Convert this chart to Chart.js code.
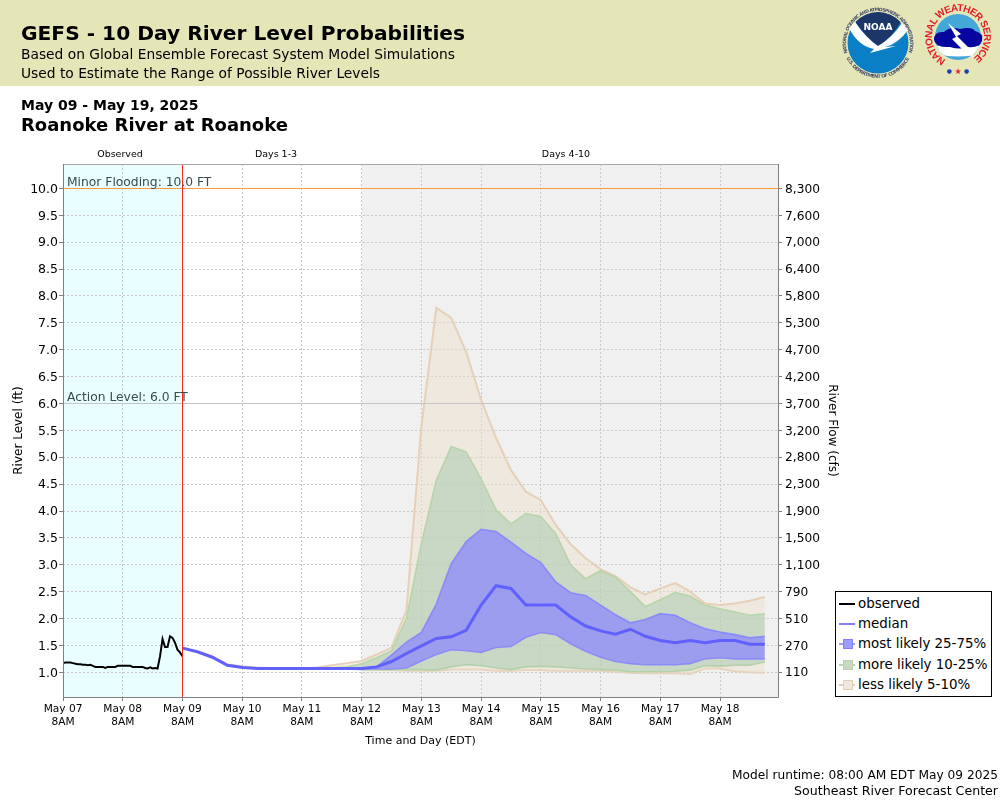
<!DOCTYPE html>
<html>
<head>
<meta charset="utf-8">
<title>GEFS - 10 Day River Level Probabilities</title>
<script src="https://cdn.jsdelivr.net/npm/chart.js@4"></script>
<style>
    html, body { margin: 0; padding: 0; background: #fff; width: 1000px; height: 800px; overflow: hidden; font-family: "DejaVu Sans", sans-serif; color: #000; }
    #page { position: relative; width: 1000px; height: 800px; }
    #band { position: absolute; left: 0; top: 0; width: 1000px; height: 86px; background: #e5e6b8; }
    #chart { position: absolute; left: 0; top: 0; }
    .txt { position: absolute; white-space: nowrap; line-height: 1; }
    #logos { position: absolute; left: 830px; top: 0; }
    #legend { position: absolute; left: 835px; top: 591px; width: 155px; height: 104px; border: 1px solid #000; background: #fff; }
    .row { position: absolute; left: 3px; height: 20px; font-size: 13.4px; line-height: 22px; white-space: nowrap; }
    .key { position: absolute; left: 0; top: 10px; width: 16px; height: 2px; }
    .box { position: absolute; left: 4px; top: 6px; width: 8px; height: 8px; border: 1px solid; }
    .lab { position: absolute; left: 19px; top: 0; }
</style>
</head>
<body>
<div id="page">
    <div id="band"></div>
    <canvas id="chart" width="1000" height="800"></canvas>
    <div class="txt" style="left:21px;top:23px;font-size:20.2px;font-weight:bold">GEFS - 10 Day River Level Probabilities</div>
    <div class="txt" style="left:21px;top:48px;font-size:13.8px">Based on Global Ensemble Forecast System Model Simulations</div>
    <div class="txt" style="left:21px;top:67px;font-size:13.8px">Used to Estimate the Range of Possible River Levels</div>
    <div class="txt" style="left:21px;top:98px;font-size:14px;font-weight:bold">May 09 - May 19, 2025</div>
    <div class="txt" style="left:21px;top:116px;font-size:18px;font-weight:bold">Roanoke River at Roanoke</div>
    <div class="txt" style="right:2px;top:769px;font-size:12.2px">Model runtime: 08:00 AM EDT May 09 2025</div>
    <div class="txt" style="right:2px;top:785px;font-size:12.6px">Southeast River Forecast Center</div>

    <svg id="logos" width="170" height="86" viewBox="830 0 170 86" xmlns="http://www.w3.org/2000/svg">
        <defs>
            <path id="noaaTop" d="M 847.6 53 A 32 32 0 1 1 908.4 53"></path>
            <path id="noaaBot" d="M 846.4 58 A 35 35 0 0 0 909.6 58"></path>
            <path id="nwsTop" d="M 945.8 60 A 26 26 0 1 1 970.2 60"></path>
            <clipPath id="nwsClip"><circle cx="958" cy="37" r="23"></circle></clipPath>
        </defs>
        <text font-size="4.6" fill="#4a5068" font-weight="bold"><textPath href="#noaaTop" textLength="120" lengthAdjust="spacing">NATIONAL OCEANIC AND ATMOSPHERIC ADMINISTRATION</textPath></text>
        <text font-size="4.8" fill="#4a5068" font-weight="bold"><textPath href="#noaaBot" textLength="78" lengthAdjust="spacing">U.S. DEPARTMENT OF COMMERCE</textPath></text>
        <circle cx="878" cy="43" r="30.5" fill="#0a7fc6"></circle>
        <path d="M 855.5 22 A 30.5 30.5 0 0 1 900.5 22 Q 892 38 878 46 Q 866 38 855.5 22 Z" fill="#1c3668"></path>
        <path d="M 849 28 L 855 22 Q 866 38 878 46 Q 892 38 902 23 L 908 30 Q 898 44 885 47 L 896 46 L 870 53 L 874 49 Q 858 46 849 28 Z" fill="#fff"></path>
        <text x="878" y="30" font-size="9" fill="#fff" font-weight="bold" text-anchor="middle">NOAA</text>
        <text font-family="Liberation Sans" font-size="10" fill="#e0202a" font-weight="bold"><textPath href="#nwsTop" textLength="134" lengthAdjust="spacing">NATIONAL WEATHER SERVICE</textPath></text>
        <text x="949.3" y="73" font-size="6" fill="#2040b0" text-anchor="middle">&#9679;</text>
        <text x="958" y="74" font-size="8" fill="#e0202a" text-anchor="middle">&#9733;</text>
        <text x="966.7" y="73" font-size="6" fill="#2040b0" text-anchor="middle">&#9679;</text>
        <circle cx="958" cy="37" r="23" fill="#45a6d8"></circle>
        <g clip-path="url(#nwsClip)">
            <path d="M 932 46 L 984 46 L 984 53 Q 958 60 932 53 Z" fill="#fff"></path>
        </g>
        <path d="M 934 40 Q 934 31 944 32 Q 950 26 960 29 Q 972 26 975 31 Q 984 33 982 41 Q 980 48 968 47 Q 960 50 950 47 Q 936 48 934 40 Z" fill="#0505a0"></path>
        <path d="M 948 23 L 961 34 L 957 36 L 968 47 L 974 58 L 962 49 L 952 39 L 956 37 Z" fill="#fff"></path>
    </svg>

    <div id="legend">
        <div class="row" style="top:1px"><span class="key" style="background:#000"></span><span class="lab">observed</span></div>
        <div class="row" style="top:21px"><span class="key" style="background:#8080ff"></span><span class="lab">median</span></div>
        <div class="row" style="top:41px"><span class="key" style="background:#9e9efc"></span><span class="box" style="background:#9e9efc;border-color:#8080ff"></span><span class="lab">most likely 25-75%</span></div>
        <div class="row" style="top:62px"><span class="key" style="background:#bcd8ac"></span><span class="box" style="background:#c9d8c5;border-color:#b8d4a8"></span><span class="lab">more likely 10-25%</span></div>
        <div class="row" style="top:82px"><span class="key" style="background:#e6cfb5"></span><span class="box" style="background:#efe8df;border-color:#e6cfb5"></span><span class="lab">less likely 5-10%</span></div>
    </div>
</div>

<script>
// hours after May 07 8AM
var tickHours = [0, 24, 48, 72, 96, 120, 144, 168, 192, 216, 240, 264];
var dayLabels = ["May 07", "May 08", "May 09", "May 10", "May 11", "May 12", "May 13", "May 14", "May 15", "May 16", "May 17", "May 18"];
var levelTicks = [1.0, 1.5, 2.0, 2.5, 3.0, 3.5, 4.0, 4.5, 5.0, 5.5, 6.0, 6.5, 7.0, 7.5, 8.0, 8.5, 9.0, 9.5, 10.0];
var flowLabels = ["110", "270", "510", "790", "1,100", "1,500", "1,900", "2,300", "2,800", "3,200", "3,700", "4,200", "4,700", "5,300", "5,800", "6,400", "7,000", "7,600", "8,300"];

var observedHours = [0, 1, 2, 3, 4, 5, 6, 7, 8, 9, 10, 11, 12, 13, 14, 15, 16, 17, 18, 19, 20, 21, 22, 23, 24, 25, 26, 27, 28, 29, 30, 31, 32, 33, 34, 35, 36, 37, 38, 39, 40, 41, 42, 43, 44, 45, 46, 47, 48];
var observed = [1.17, 1.18, 1.18, 1.18, 1.17, 1.16, 1.15, 1.15, 1.14, 1.14, 1.13, 1.14, 1.12, 1.10, 1.10, 1.10, 1.10, 1.08, 1.10, 1.10, 1.10, 1.10, 1.12, 1.12, 1.12, 1.12, 1.12, 1.12, 1.10, 1.10, 1.10, 1.10, 1.10, 1.08, 1.07, 1.09, 1.07, 1.08, 1.07, 1.30, 1.62, 1.47, 1.47, 1.67, 1.64, 1.55, 1.42, 1.37, 1.30];

var forecastHours = [48, 54, 60, 66, 72, 78, 84, 90, 96, 102, 108, 114, 120, 126, 132, 138, 144, 150, 156, 162, 168, 174, 180, 186, 192, 198, 204, 210, 216, 222, 228, 234, 240, 246, 252, 258, 264, 270, 276, 282];
var median = [1.45, 1.38, 1.28, 1.13, 1.09, 1.07, 1.07, 1.07, 1.07, 1.07, 1.07, 1.07, 1.07, 1.10, 1.20, 1.35, 1.49, 1.63, 1.66, 1.78, 2.25, 2.61, 2.56, 2.25, 2.25, 2.25, 2.03, 1.86, 1.77, 1.71, 1.80, 1.67, 1.59, 1.55, 1.59, 1.55, 1.59, 1.59, 1.52, 1.52];
var p75 = [1.45, 1.38, 1.28, 1.13, 1.09, 1.07, 1.07, 1.07, 1.07, 1.07, 1.07, 1.07, 1.07, 1.10, 1.32, 1.56, 1.74, 2.27, 3.02, 3.43, 3.66, 3.62, 3.42, 3.21, 3.04, 2.68, 2.48, 2.43, 2.25, 2.07, 1.92, 1.98, 2.09, 2.06, 1.92, 1.81, 1.75, 1.70, 1.64, 1.67];
var p25 = [1.45, 1.38, 1.28, 1.13, 1.09, 1.07, 1.07, 1.07, 1.07, 1.07, 1.07, 1.07, 1.06, 1.06, 1.06, 1.08, 1.21, 1.33, 1.42, 1.40, 1.37, 1.46, 1.48, 1.65, 1.74, 1.70, 1.53, 1.39, 1.28, 1.20, 1.16, 1.14, 1.14, 1.14, 1.16, 1.25, 1.27, 1.25, 1.25, 1.25];
var p90 = [1.45, 1.39, 1.29, 1.14, 1.10, 1.08, 1.07, 1.07, 1.07, 1.07, 1.08, 1.10, 1.16, 1.27, 1.40, 2.00, 3.40, 4.57, 5.20, 5.10, 4.60, 4.02, 3.76, 3.95, 3.90, 3.58, 3.00, 2.74, 2.89, 2.77, 2.50, 2.22, 2.35, 2.48, 2.42, 2.25, 2.18, 2.12, 2.06, 2.09];
var p10 = [1.45, 1.38, 1.28, 1.13, 1.09, 1.07, 1.07, 1.07, 1.07, 1.07, 1.07, 1.07, 1.05, 1.05, 1.05, 1.05, 1.05, 1.04, 1.10, 1.14, 1.12, 1.08, 1.05, 1.10, 1.11, 1.10, 1.08, 1.06, 1.05, 1.04, 1.01, 1.01, 1.01, 1.02, 1.04, 1.12, 1.11, 1.13, 1.13, 1.19];
var p95 = [1.46, 1.40, 1.30, 1.15, 1.11, 1.09, 1.08, 1.07, 1.07, 1.09, 1.13, 1.17, 1.21, 1.33, 1.46, 2.15, 5.57, 7.78, 7.59, 6.96, 6.07, 5.36, 4.76, 4.36, 4.20, 3.74, 3.38, 3.12, 2.92, 2.79, 2.58, 2.45, 2.56, 2.66, 2.50, 2.28, 2.25, 2.28, 2.33, 2.40];
var p5 = [1.45, 1.38, 1.28, 1.13, 1.09, 1.07, 1.07, 1.07, 1.07, 1.07, 1.07, 1.07, 1.05, 1.05, 1.04, 1.03, 1.03, 1.03, 1.05, 1.05, 1.05, 1.03, 1.03, 1.04, 1.04, 1.03, 1.03, 1.03, 1.03, 1.01, 0.99, 0.98, 0.98, 0.98, 0.97, 1.07, 1.07, 1.02, 1.00, 0.99];

function toPoints(xs, ys) {
    return ys.map(function(y, i) {
        return { x: xs[i], y: y };
    });
}

function bandDataset(label, values, lineColor, lineWidth, fillTarget, fillColor) {
    return {
        label: label,
        data: toPoints(forecastHours, values),
        borderColor: lineColor,
        borderWidth: lineWidth,
        pointRadius: 0,
        tension: 0,
        fill: fillTarget === null ? false : { target: fillTarget },
        backgroundColor: fillColor
    };
}

// shaded periods, threshold lines and the text that sits on them
var decorations = {
    id: "decorations",
    beforeDraw: function(chart) {
        var ctx = chart.ctx, area = chart.chartArea, x = chart.scales.x;
        ctx.save();
        ctx.fillStyle = "#e9ffff";
        ctx.fillRect(area.left, area.top, x.getPixelForValue(48) - area.left, area.height);
        ctx.fillStyle = "#f0f0f0";
        ctx.fillRect(x.getPixelForValue(120), area.top, area.right - x.getPixelForValue(120), area.height);
        ctx.restore();
    },
    afterDatasetsDraw: function(chart) {
        var ctx = chart.ctx, area = chart.chartArea, x = chart.scales.x, y = chart.scales.y;
        var px = x.getPixelForValue(48);
        ctx.save();
        ctx.lineWidth = 1;
        ctx.strokeStyle = "#ff9a3c";
        ctx.beginPath();
        ctx.moveTo(area.left, Math.floor(y.getPixelForValue(10)) + 0.5);
        ctx.lineTo(area.right, Math.floor(y.getPixelForValue(10)) + 0.5);
        ctx.stroke();
        ctx.strokeStyle = "#c4c4c4";
        ctx.beginPath();
        ctx.moveTo(area.left, Math.floor(y.getPixelForValue(6)) + 0.5);
        ctx.lineTo(area.right, Math.floor(y.getPixelForValue(6)) + 0.5);
        ctx.stroke();
        ctx.strokeStyle = "#ff2020";
        ctx.beginPath();
        ctx.moveTo(Math.floor(px) + 0.5, area.top);
        ctx.lineTo(Math.floor(px) + 0.5, area.bottom);
        ctx.stroke();

        ctx.strokeStyle = "#a8a8a8";
        ctx.beginPath();
        ctx.moveTo(area.left, area.top + 0.5);
        ctx.lineTo(area.right + 1, area.top + 0.5);
        ctx.stroke();
        ctx.strokeStyle = "#808080";
        ctx.beginPath();
        ctx.moveTo(area.left + 0.5, area.top);
        ctx.lineTo(area.left + 0.5, area.bottom + 0.5);
        ctx.lineTo(area.right + 0.5, area.bottom + 0.5);
        ctx.lineTo(area.right + 0.5, area.top);
        ctx.stroke();

        ctx.fillStyle = "#364c4c";
        ctx.font = "12.3px 'DejaVu Sans'";
        ctx.textBaseline = "alphabetic";
        ctx.fillText("Minor Flooding: 10.0 FT", area.left + 4, y.getPixelForValue(10) - 2);
        ctx.fillText("Action Level: 6.0 FT", area.left + 4, y.getPixelForValue(6) - 2);

        ctx.fillStyle = "#000";
        ctx.font = "9.5px 'DejaVu Sans'";
        ctx.textAlign = "center";
        ctx.fillText("Observed", 120, 157);
        ctx.fillText("Days 1-3", 276, 157);
        ctx.fillText("Days 4-10", 566, 157);
        ctx.restore();
    }
};

var newChart = new Chart(document.getElementById("chart"), {
    type: "line",
    data: {
        datasets: [
            { label: "observed", data: toPoints(observedHours, observed), borderColor: "#000", borderWidth: 2, pointRadius: 0, tension: 0, fill: false },
            { label: "median", data: toPoints(forecastHours, median), borderColor: "rgba(90,90,255,0.9)", borderWidth: 3, pointRadius: 0, tension: 0, fill: false },
            bandDataset("p75", p75, "rgba(128,128,255,0.8)", 1.6, 3, "rgba(140,135,255,0.72)"),
            bandDataset("p25", p25, "rgba(128,128,255,0.8)", 1.6, null, "transparent"),
            bandDataset("p90", p90, "rgba(180,212,165,0.9)", 1.6, 5, "rgba(163,200,171,0.5)"),
            bandDataset("p10", p10, "rgba(180,212,165,0.9)", 1.6, null, "transparent"),
            bandDataset("p95", p95, "rgba(228,205,178,0.9)", 2, 7, "rgba(238,224,206,0.5)"),
            bandDataset("p5", p5, "rgba(228,205,178,0.9)", 2, null, "transparent")
        ]
    },
    options: {
        responsive: false,
        animation: false,
        devicePixelRatio: 1,
        layout: { padding: { left: 0, right: 160, top: 164, bottom: 50 } },
        plugins: { legend: { display: false }, tooltip: { enabled: false } },
        scales: {
            x: {
                type: "linear",
                min: 0,
                max: 287.3,
                afterBuildTicks: function(scale) {
                    scale.ticks = tickHours.map(function(h) { return { value: h }; });
                },
                afterFit: function(scale) { scale.height = 53; },
                grid: { color: "#c8c8c8", tickColor: "#808080", tickLength: 4 },
                border: { dash: [2, 2], display: false },
                ticks: {
                    autoSkip: false, maxRotation: 0, padding: 2, color: "#000",
                    font: { family: "DejaVu Sans", size: 10.6, lineHeight: 1.2 },
                    callback: function(value) {
                        return [dayLabels[tickHours.indexOf(value)], "8AM"];
                    }
                },
                title: { display: true, text: "Time and Day (EDT)", color: "#000", padding: { top: 0, bottom: 2 }, font: { family: "DejaVu Sans", size: 11, lineHeight: 1.2 } }
            },
            y: {
                position: "left",
                min: 0.54,
                max: 10.455,
                afterBuildTicks: function(scale) {
                    scale.ticks = levelTicks.map(function(v) { return { value: v }; });
                },
                afterFit: function(scale) { scale.width = 63; },
                grid: { color: "#c8c8c8", tickColor: "#808080", tickLength: 4 },
                border: { dash: [2, 2], display: false },
                ticks: {
                    padding: 1, color: "#000", labelOffset: 1,
                    font: { family: "DejaVu Sans", size: 12.5 },
                    callback: function(value) { return value.toFixed(1); }
                },
                title: { display: true, text: "River Level (ft)", color: "#000", padding: { top: 12, bottom: 0 }, font: { family: "DejaVu Sans", size: 12, lineHeight: 1.2 } }
            },
            y2: {
                position: "right",
                min: 0.54,
                max: 10.455,
                afterBuildTicks: function(scale) {
                    scale.ticks = levelTicks.map(function(v) { return { value: v }; });
                },
                afterFit: function(scale) { scale.width = 62; },
                grid: { drawOnChartArea: false, tickColor: "#808080", tickLength: 4 },
                border: { display: false },
                ticks: {
                    padding: 3, color: "#000", labelOffset: 1,
                    font: { family: "DejaVu Sans", size: 12.2 },
                    callback: function(value) { return flowLabels[levelTicks.indexOf(value)]; }
                },
                title: { display: true, text: "River Flow (cfs)", color: "#000", padding: { top: 1, bottom: 0 }, font: { family: "DejaVu Sans", size: 12, lineHeight: 1.2 } }
            }
        }
    },
    plugins: [decorations]
});
</script>
</body>
</html>
